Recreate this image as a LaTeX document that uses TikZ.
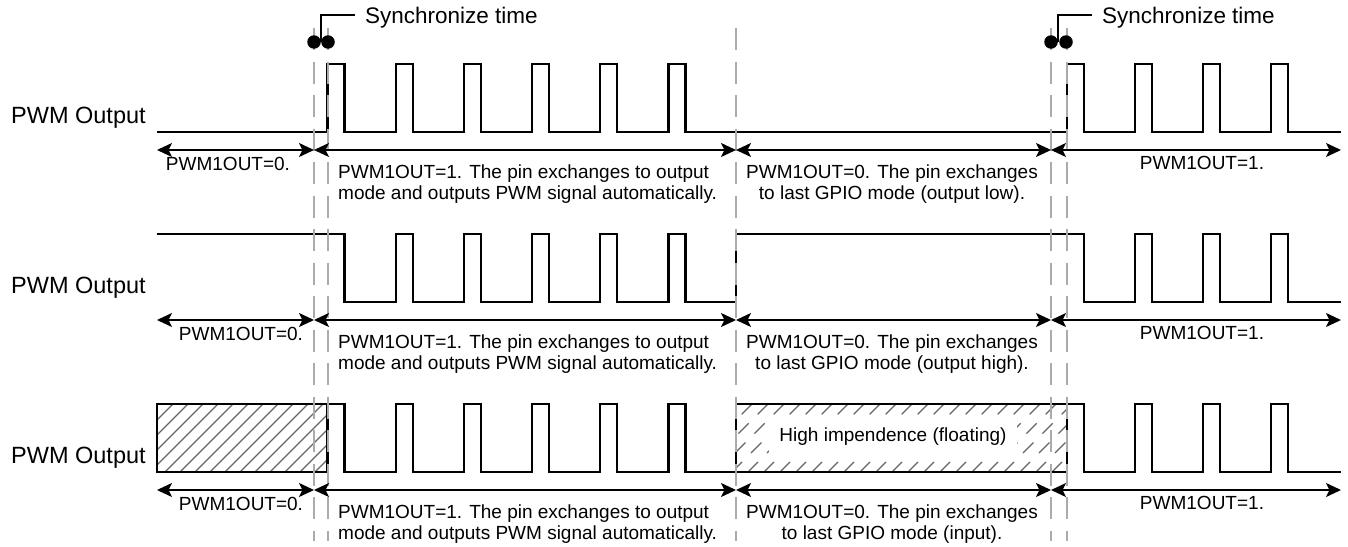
\documentclass[tikz,border=0pt]{standalone}
\usepackage{fontspec}
\setmainfont{Liberation Sans}
\usetikzlibrary{arrows.meta,positioning}

\begin{document}
\begin{tikzpicture}[x=1pt, y=-1pt, >={Stealth[length=15pt,width=14pt,inset=3.5pt]}]
    % Define styles
    \tikzstyle{wave} = [line width=2.2pt, black]
    \tikzstyle{guide} = [line width=2.3pt, black!33, dash pattern=on 22pt off 11.5pt]
    \tikzstyle{dim} = [line width=1.6pt, <->]
    \tikzstyle{lbl} = [inner sep=0pt, font=\fontsize{19}{21.5}\selectfont]
    \tikzstyle{sig} = [inner sep=0pt, anchor=base west, font=\fontsize{23.5}{26}\selectfont]
    \tikzstyle{synctxt} = [inner sep=0pt, inner xsep=10pt, anchor=west, text depth=0pt, font=\fontsize{22.5}{26}\selectfont]
    \tikzstyle{hatch} = [line width=1.3pt, black!60]
    \tikzstyle{dot} = [circle, fill=black, inner sep=0pt, minimum size=13.5pt]
    \tikzstyle{callout} = [line width=1.5pt, black]
    \useasboundingbox (0,0) rectangle (1348,546);

    % Signal names
    \node [sig] (out1) at (11,123.5) {PWM Output};
    \node [sig] (out2) at (11,293.5) {PWM Output};
    \node [sig] (out3) at (11,463.5) {PWM Output};

    % Hatched areas
    \begin{scope}
        \clip (157,404) rectangle (327.5,472);
        \foreach \x in {90,105,...,330} \draw [hatch] (\x,472) -- ++(68,-68);
    \end{scope}
    \begin{scope}
        \clip (736,404) rectangle (1067,472);
        \foreach \x in {736,752,...,1140}
            \foreach \a in {0,19.3,38.6,57.9} \draw [hatch] (\x-\a,404+\a) -- ++(-10.3,10.3);
    \end{scope}
    \node [lbl, fill=white, minimum width=248pt, minimum height=44pt] (hiz) at (893,437) {High impendence (floating)};

    % Waveforms
    \draw [wave] (157,132) \foreach \x in {327.5,395.7,463.9,532.1,600.3,668.5} {-- (\x,132) -- (\x,64) -- (\x+17,64) -- (\x+17,132)}
        -- (736,132) \foreach \x in {1067,1135,1203,1271} {-- (\x,132) -- (\x,64) -- (\x+17,64) -- (\x+17,132)} -- (1341,132);
    \draw [wave] (157,234) -- (344.5,234) -- (344.5,302) \foreach \x in {395.7,463.9,532.1,600.3,668.5} {-- (\x,302) -- (\x,234) -- (\x+17,234) -- (\x+17,302)}
        -- (736,302) -- (736,234) -- (1084,234) -- (1084,302) \foreach \x in {1135,1203,1271} {-- (\x,302) -- (\x,234) -- (\x+17,234) -- (\x+17,302)} -- (1341,302);
    \draw [wave] (157,404) rectangle (327.5,472);
    \draw [wave] (327.5,404) -- (344.5,404) -- (344.5,472) \foreach \x in {395.7,463.9,532.1,600.3,668.5} {-- (\x,472) -- (\x,404) -- (\x+17,404) -- (\x+17,472)} -- (736,472);
    \draw [wave] (736,404) rectangle (1067,472);
    \draw [wave] (1067,404) -- (1084,404) -- (1084,472) \foreach \x in {1135,1203,1271} {-- (\x,472) -- (\x,404) -- (\x+17,404) -- (\x+17,472)} -- (1341,472);

    % Guide lines
    \foreach \x in {314,328,736,1051,1067} \draw [guide] (\x,28) -- (\x,541);

    % Arrows and labels
    \foreach \r/\y/\xz/\mode in {1/150/228/output low, 2/320/241/output high, 3/490/241/input} {
        \coordinate (l\r) at (157,\y);
        \coordinate (a\r) at (314,\y);
        \coordinate (b\r) at (736,\y);
        \coordinate (c\r) at (1051,\y);
        \coordinate (r\r) at (1341,\y);
        \draw [dim] (l\r) -- (a\r);
        \draw [dim] (a\r) -- (b\r);
        \draw [dim] (b\r) -- (c\r);
        \draw [dim] (c\r) -- (r\r);
        \node [lbl] (zero\r) at (\xz,\y+14) {PWM1OUT=0.};
        \node [lbl, align=left, anchor=north west] (on\r) at (338,\y+14.5) {PWM1OUT=1. The pin exchanges to output\\mode and outputs PWM signal automatically.};
        \node [lbl, align=center, anchor=north] (back\r) at (892,\y+14.5) {PWM1OUT=0. The pin exchanges\\to last GPIO mode (\mode).};
        \node [lbl] (one\r) at (1202,\y+13) {PWM1OUT=1.};
    }

    % Synchronize points
    \node [dot] (d1) at (314,42) {};
    \node [dot] (d2) at (328,42) {};
    \node [dot] (d3) at (1051,42) {};
    \node [dot] (d4) at (1066,42) {};
    \node [synctxt] (sync1) at (355,15) {Synchronize time};
    \node [synctxt] (sync2) at (1092,15) {Synchronize time};
    \draw [callout] (sync1.west) -| (d1.east);
    \draw [callout] (sync2.west) -| (d3.east);
\end{tikzpicture}
\end{document}
